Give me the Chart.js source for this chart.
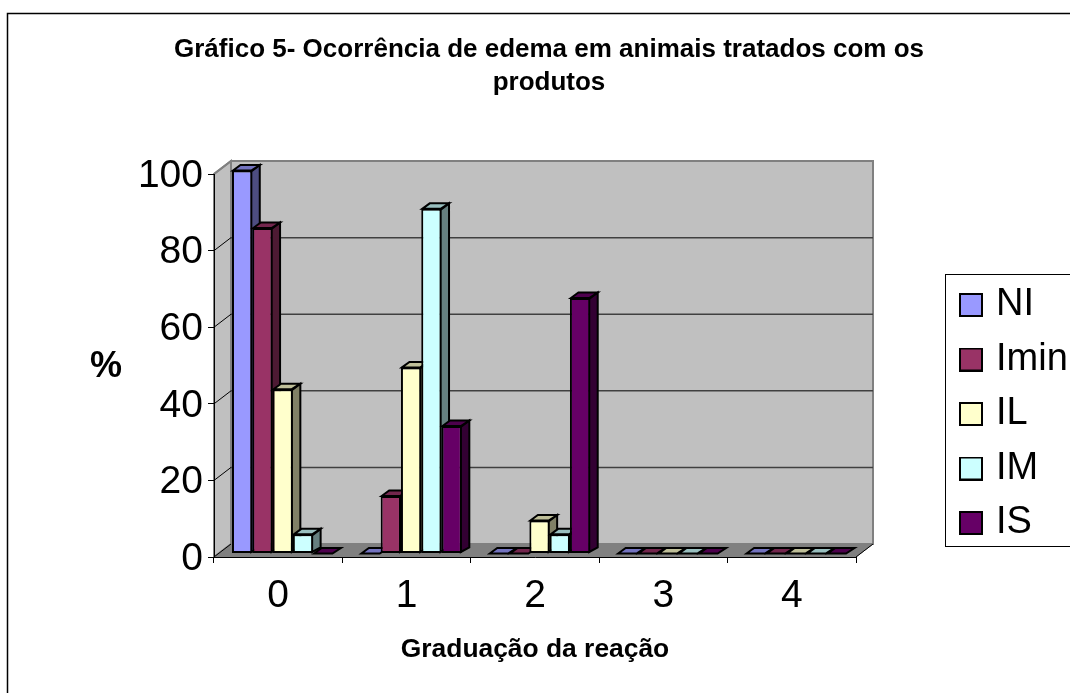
<!DOCTYPE html>
<html><head><meta charset="utf-8">
<script src="https://cdn.jsdelivr.net/npm/chart.js@4/dist/chart.umd.min.js"></script>
<style>html,body{margin:0;padding:0;background:#fff}canvas{display:block}</style>
</head><body><canvas id="c" width="1070" height="693"></canvas>
<script>
const categories = ['0','1','2','3','4'];
const seriesNames = ['NI','Imin','IL','IM','IS'];
const valuesNI = [100,0,0,0,0];
const valuesImin = [85,15,0,0,0];
const valuesIL = [42.9,48.6,8.6,0,0];
const valuesIM = [5,90,5,0,0];
const valuesIS = [0,33.3,66.7,0,0];
const yTicks = [0,20,40,60,80,100];
const titleLines = ['Gráfico 5- Ocorrência de edema em animais tratados com os','produtos'];
const xTitle = 'Graduação da reação';
const yTitle = '%';
const fills = ['#9999FF','#993366','#FFFFCC','#CCFFFF','#660066'];
const tops  = ['#7373BF','#73264D','#BFBF99','#99BFBF','#4D004D'];
const sides = ['#4D4D80','#4D1A33','#808066','#668080','#330033'];
const FONT = '"Liberation Sans", Arial, sans-serif';
const seriesValues = [valuesNI,valuesImin,valuesIL,valuesIM,valuesIS];

const WALL_DX = 17, WALL_DY = 13;   // depth of the box
const BAR_SHIFT_X = 4.5, BAR_SHIFT_Y = 3.5; // bars stand a little inside the floor
const BAR_DX = 7.5, BAR_DY = 5.5;   // depth of a bar

function swatch(color){
  const s = document.createElement('canvas'); s.width = 24; s.height = 24;
  const g = s.getContext('2d');
  g.fillStyle = '#000'; g.fillRect(0,0,24,24);
  g.fillStyle = color; g.fillRect(2,2,20,20);
  return s;
}
const swatches = fills.map(swatch);

function poly(ctx, pts, fill, stroke, lw){
  ctx.beginPath();
  pts.forEach((p,i)=> i ? ctx.lineTo(p[0],p[1]) : ctx.moveTo(p[0],p[1]));
  ctx.closePath();
  if (fill){ ctx.fillStyle = fill; ctx.fill(); }
  if (stroke){ ctx.strokeStyle = stroke; ctx.lineWidth = lw; ctx.stroke(); }
}

const box3d = {
  id:'box3d',
  afterLayout(chart){
    const l = chart.legend;
    const w = l.width, h = l.height;
    l.left = 965 - l.options.labels.padding;
    l.right = l.left + w;
    l.top = 286 - l.options.labels.padding;
    l.bottom = l.top + h;
    l.adjustHitBoxes();
  },
  beforeDraw(chart){
    const {ctx, chartArea:a, scales:{y}} = chart;
    // the value labels sit slightly below their ticks
    y.getLabelItems().forEach(it=>{
      if (!it.nudged){ it.options.translation[1] += 2; it.nudged = true; }
    });
    ctx.save();
    ctx.fillStyle = '#fff'; ctx.fillRect(0,0,chart.width,chart.height);
    // outer frame
    ctx.strokeStyle = '#000'; ctx.lineWidth = 1.5;
    ctx.beginPath(); ctx.moveTo(7.5,700); ctx.lineTo(7.5,13.5); ctx.lineTo(1075,13.5); ctx.stroke();
    // walls and floor
    const bl=[a.left+WALL_DX,a.bottom-WALL_DY], tl=[a.left+WALL_DX,a.top-WALL_DY],
          tr=[a.right+WALL_DX,a.top-WALL_DY], br=[a.right+WALL_DX,a.bottom-WALL_DY];
    poly(ctx,[[a.left,a.top],tl,bl,[a.left,a.bottom]],'#C0C0C0','#808080',2);
    poly(ctx,[tl,tr,br,bl],'#C0C0C0','#808080',2);
    poly(ctx,[[a.left,a.bottom],bl,br,[a.right,a.bottom]],'#808080','#808080',1);
    // grid on the back wall, with its slanted continuation on the side wall
    yTicks.forEach(t=>{
      if (t===0 || t===100) return;
      const py = y.getPixelForValue(t);
      ctx.strokeStyle = '#404040'; ctx.lineWidth = 1.5;
      ctx.beginPath(); ctx.moveTo(a.left+WALL_DX,py-WALL_DY); ctx.lineTo(a.right+WALL_DX,py-WALL_DY); ctx.stroke();
      ctx.strokeStyle = '#000'; ctx.lineWidth = 1;
      ctx.beginPath(); ctx.moveTo(a.left,py); ctx.lineTo(a.left+WALL_DX,py-WALL_DY); ctx.stroke();
    });
    // floor edges
    ctx.strokeStyle = '#000'; ctx.lineWidth = 1;
    ctx.beginPath(); ctx.moveTo(a.left,a.bottom); ctx.lineTo(a.left+WALL_DX,a.bottom-WALL_DY);
    ctx.moveTo(a.right,a.bottom); ctx.lineTo(a.right+WALL_DX,a.bottom-WALL_DY); ctx.stroke();
    ctx.strokeStyle = '#808080'; ctx.lineWidth = 2;
    ctx.beginPath(); ctx.moveTo(a.left,a.top); ctx.lineTo(a.left+WALL_DX,a.top-WALL_DY); ctx.stroke();
    // legend frame
    ctx.strokeStyle = '#000'; ctx.lineWidth = 1;
    ctx.strokeRect(945.5,274.5,140,272);
    // y axis caption stays horizontal
    ctx.fillStyle = '#000'; ctx.font = 'bold 36px '+FONT;
    ctx.textAlign = 'center'; ctx.textBaseline = 'middle';
    ctx.fillText(yTitle,106,367);
    ctx.restore();
  },
  beforeDatasetsDraw(chart){
    // left-to-right, so that each bar's front covers the side of the one before it
    const ctx = chart.ctx;
    ctx.save();
    ctx.translate(BAR_SHIFT_X,-BAR_SHIFT_Y);
    ctx.lineJoin='miter';
    seriesNames.forEach((n,i)=>{
      const meta = chart.getDatasetMeta(i);
      meta.data.forEach(el=>{
        const {x,y,base,width} = el.getProps(['x','y','base','width'],true);
        const l=x-width/2, r=x+width/2;
        if (base-y>0.01) poly(ctx,[[r-1,y+1],[r+BAR_DX,y-BAR_DY],[r+BAR_DX,base-BAR_DY],[r-1,base-1]],sides[i],'#000',2);
        poly(ctx,[[l+1,y],[l+1+BAR_DX,y-BAR_DY],[r+BAR_DX,y-BAR_DY],[r-1,y]],tops[i],'#000',2);
      });
      meta.controller.draw();
    });
    ctx.restore();
    return false;
  }
};

new Chart(document.getElementById('c'),{
  type:'bar',
  plugins:[box3d],
  data:{
    labels:categories,
    datasets:seriesNames.map((n,i)=>({
      label:n, data:seriesValues[i], backgroundColor:fills[i], borderColor:'#000',
      borderWidth:2, borderSkipped:false, clip:false,
      categoryPercentage:0.79, barPercentage:1
    }))
  },
  options:{
    responsive:false, animation:false, events:[],
    layout:{padding:{left:28,right:0,top:0,bottom:0}},
    plugins:{
      tooltip:{enabled:false},
      title:{display:true,text:titleLines,color:'#000',
        font:{family:FONT,size:26,weight:'bold',lineHeight:1.27},
        padding:{top:33,bottom:75}},
      legend:{position:'right',align:'start',
        labels:{font:{family:FONT,size:38},color:'#000',padding:16.5,
          usePointStyle:true,pointStyleWidth:12,boxHeight:38,
          generateLabels(chart){
            const items = Chart.defaults.plugins.legend.labels.generateLabels(chart);
            items.forEach((it,i)=>{it.pointStyle=swatches[i];});
            return items;
          }}}
    },
    scales:{
      x:{
        offset:true,
        grid:{display:true,drawOnChartArea:false,drawTicks:true,tickLength:6,color:'#000',offset:true},
        border:{display:true,color:'#000',width:1},
        ticks:{color:'#000',font:{family:FONT,size:39},padding:9.5,maxRotation:0},
        title:{display:true,text:xTitle,color:'#000',font:{family:FONT,size:26.4,weight:'bold'},padding:{top:12,bottom:27}},
        afterFit(s){ s.height = 136; }
      },
      y:{
        min:0,max:100,
        afterBuildTicks(s){ s.ticks = yTicks.map(v=>({value:v})); },
        grid:{display:true,drawOnChartArea:false,drawTicks:true,tickLength:6,color:'#000'},
        border:{display:true,color:'#000',width:1},
        ticks:{color:'#000',font:{family:FONT,size:39},padding:5},
        afterFit(s){ s.width = 186; }
      },
      spacer:{
        position:'right',display:true,
        grid:{display:false},border:{display:false},ticks:{display:false},
        afterFit(s){ s.width = 1070-856-s.chart.legend.width; }
      }
    }
  }
});
</script></body></html>
